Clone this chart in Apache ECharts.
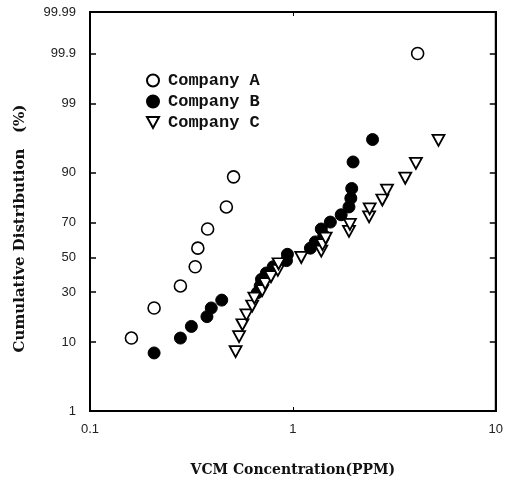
<!DOCTYPE html>
<html>
<head>
<meta charset="utf-8">
<script src="https://cdn.jsdelivr.net/npm/echarts@6/dist/echarts.min.js"></script>
<style>
  html, body { margin: 0; padding: 0; background: #fff; }
  #chart { width: 506px; height: 491px; }
</style>
</head>
<body>
<div id="chart"></div>
<script>
// values (x in ppm, y in cumulative %)
const companyA_x = [0.16, 0.207, 0.279, 0.33, 0.34, 0.38, 0.47, 0.51, 4.12];
const companyA_pct = [11.1, 22.2, 33.3, 44.4, 55.6, 66.7, 77.8, 88.9, 99.9];

const companyB_x = [0.207, 0.279, 0.316, 0.377, 0.396, 0.446, 0.667, 0.69, 0.70, 0.74, 0.80, 0.93,
  0.94, 1.22, 1.29, 1.42, 1.38, 1.53, 1.73, 1.89, 1.93, 1.95, 1.98, 2.47];
const companyB_pct = [7.4, 11.1, 14.8, 18.5, 22.2, 25.9, 29.6, 33.3, 37.0, 40.7, 44.4, 48.1,
  51.9, 55.6, 59.3, 63.0, 66.7, 70.4, 74.1, 77.8, 81.5, 85.2, 92.6, 96.3];

const companyC_x = [0.522, 0.543, 0.564, 0.59, 0.63, 0.646, 0.706, 0.73, 0.78, 0.843, 0.85, 1.10,
  1.38, 1.40, 1.45, 1.89, 1.91, 2.375, 2.39, 2.76, 2.91, 3.58, 4.04, 5.22];
const companyC_pct = [7.7, 11.5, 15.4, 19.2, 23.1, 26.9, 30.8, 34.6, 38.5, 42.3, 46.2, 50.0,
  53.8, 57.7, 61.5, 65.4, 69.2, 73.1, 76.9, 80.8, 84.6, 88.5, 92.3, 96.2];

const yTickPct = [1, 10, 30, 50, 70, 90, 99, 99.9, 99.99];
const yTickLabels = ['1', '10', '30', '50', '70', '90', '99', '99.9', '99.99'];
const seriesNames = ['Company A', 'Company B', 'Company C'];

// inverse normal cdf (Acklam) -> probability scale
function probit(p) {
  const a = [-3.969683028665376e+01, 2.209460984245205e+02, -2.759285104469687e+02, 1.383577518672690e+02, -3.066479806614716e+01, 2.506628277459239e+00];
  const b = [-5.447609879822406e+01, 1.615858368580409e+02, -1.556989798598866e+02, 6.680131188771972e+01, -1.328068155288572e+01];
  const c = [-7.784894002430293e-03, -3.223964580411365e-01, -2.400758277161838e+00, -2.549732539343734e+00, 4.374664141464968e+00, 2.938163982698783e+00];
  const d = [7.784695709041462e-03, 3.224671290700398e-01, 2.445134137142996e+00, 3.754408661907416e+00];
  const plow = 0.02425;
  let q, r;
  if (p < plow) {
    q = Math.sqrt(-2 * Math.log(p));
    return (((((c[0] * q + c[1]) * q + c[2]) * q + c[3]) * q + c[4]) * q + c[5]) / ((((d[0] * q + d[1]) * q + d[2]) * q + d[3]) * q + 1);
  }
  if (p <= 1 - plow) {
    q = p - 0.5; r = q * q;
    return (((((a[0] * r + a[1]) * r + a[2]) * r + a[3]) * r + a[4]) * r + a[5]) * q / (((((b[0] * r + b[1]) * r + b[2]) * r + b[3]) * r + b[4]) * r + 1);
  }
  q = Math.sqrt(-2 * Math.log(1 - p));
  return -(((((c[0] * q + c[1]) * q + c[2]) * q + c[3]) * q + c[4]) * q + c[5]) / ((((d[0] * q + d[1]) * q + d[2]) * q + d[3]) * q + 1);
}
const z = (pct) => probit(pct / 100);
const toPoints = (xs, ps) => xs.map((x, i) => [x, z(ps[i])]);

const yTicksZ = yTickPct.map(z);
const yMin = yTicksZ[0];
const yMax = yTicksZ[yTicksZ.length - 1];

function labelFor(v) {
  let best = 0;
  yTicksZ.forEach((t, i) => { if (Math.abs(t - v) < Math.abs(yTicksZ[best] - v)) best = i; });
  return yTickLabels[best];
}

const triDown = 'path://M0,0 L10,0 L5,9 Z';
const tickFont = { fontFamily: 'Liberation Sans', fontSize: 13, color: '#222' };

var myChart = echarts.init(document.getElementById('chart'));
var option = {
  animation: false,
  backgroundColor: '#fff',
  grid: {
    left: 90, right: 9, top: 12, bottom: 80,
    show: true, borderColor: '#000', borderWidth: 2, backgroundColor: 'transparent'
  },
  legend: {
    orient: 'vertical',
    left: 141, top: 67,
    itemGap: 4, itemWidth: 12, itemHeight: 12,
    data: [
      { name: seriesNames[0], icon: 'circle' },
      { name: seriesNames[1], icon: 'circle' },
      { name: seriesNames[2], icon: triDown }
    ],
    textStyle: { fontFamily: 'Liberation Mono', fontWeight: 'bold', fontSize: 17, color: '#111', padding: [0, 0, 0, 4] }
  },
  xAxis: [{
    type: 'log', logBase: 10, min: 0.1, max: 10,
    position: 'bottom',
    name: 'VCM Concentration(PPM)',
    nameLocation: 'middle', nameGap: 52,
    nameTextStyle: { fontFamily: 'DejaVu Serif', fontSize: 14, fontWeight: 'bold', color: '#111' },
    axisLine: { onZero: false, lineStyle: { color: '#000', width: 2 } },
    axisTick: { inside: true, length: 4, lineStyle: { color: '#000' } },
    axisLabel: { margin: 12, ...tickFont, formatter: (v) => String(v) },
    splitLine: { show: false }
  }, {
    type: 'log', logBase: 10, min: 0.1, max: 10,
    position: 'top',
    axisLine: { onZero: false, lineStyle: { color: '#000', width: 2 } },
    axisTick: { inside: true, length: 4, lineStyle: { color: '#000' } },
    axisLabel: { show: false },
    splitLine: { show: false }
  }],
  yAxis: [{
    type: 'value', min: yMin, max: yMax,
    position: 'left',
    name: 'Cumulative Distribution   (%)',
    nameLocation: 'middle', nameGap: 62, nameRotate: 90,
    nameTextStyle: { fontFamily: 'DejaVu Serif', fontSize: 15, fontWeight: 'bold', color: '#111', padding: [0, 34, 0, 0] },
    axisLine: { onZero: false, lineStyle: { color: '#000', width: 2 } },
    axisTick: { inside: true, length: 6, customValues: yTicksZ, lineStyle: { color: '#000', width: 1.5 } },
    axisLabel: { margin: 14, ...tickFont, customValues: yTicksZ, formatter: labelFor },
    splitLine: { show: false }
  }, {
    type: 'value', min: yMin, max: yMax,
    position: 'right',
    axisLine: { onZero: false, lineStyle: { color: '#000', width: 2 } },
    axisTick: { inside: true, length: 6, customValues: yTicksZ, lineStyle: { color: '#000', width: 1.5 } },
    axisLabel: { show: false, customValues: yTicksZ },
    splitLine: { show: false }
  }],
  series: [{
    name: seriesNames[0], type: 'scatter',
    symbol: 'circle', symbolSize: 12,
    itemStyle: { color: '#fff', borderColor: '#000', borderWidth: 1.6, opacity: 1 },
    data: toPoints(companyA_x, companyA_pct)
  }, {
    name: seriesNames[1], type: 'scatter',
    symbol: 'circle', symbolSize: 12,
    itemStyle: { color: '#000', borderColor: '#000', borderWidth: 1, opacity: 1 },
    data: toPoints(companyB_x, companyB_pct)
  }, {
    name: seriesNames[2], type: 'scatter',
    symbol: triDown, symbolSize: [12, 11],
    itemStyle: { color: '#fff', borderColor: '#000', borderWidth: 1.8, opacity: 1 },
    data: toPoints(companyC_x, companyC_pct)
  }]
};
myChart.setOption(option);
</script>
</body>
</html>
